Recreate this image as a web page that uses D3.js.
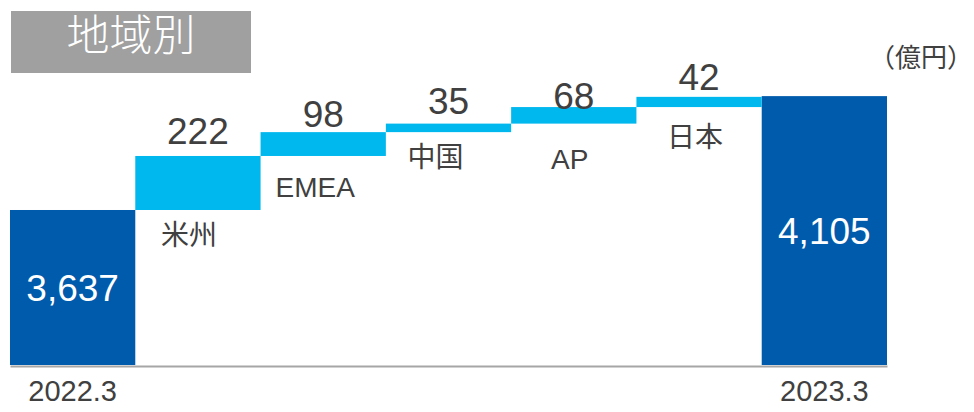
<!DOCTYPE html>
<html>
<head>
<meta charset="utf-8">
<script src="https://cdn.jsdelivr.net/npm/d3@7"></script>
<style>
  body { margin: 0; background: #fff; }
  text { font-family: "Liberation Sans", Arial, "Noto Sans CJK JP", sans-serif; }
</style>
</head>
<body>
<svg id="chart" width="974" height="412"></svg>
<script>
// data
const categories = ["2022.3", "米州", "EMEA", "中国", "AP", "日本", "2023.3"];
const startValue = 3637;
const endValue = 4105;
const deltas = [222, 98, 35, 68, 42];
const periodLabels = ["2022.3", "2023.3"];
const title = "地域別";
const unit = "（億円）";

// small hand nudges for the labels, like the original slide
const catDx = [-9, -8, -13, -4, -4];
const catDy = [13, 19, 12, 23, 18];
const valDy = [12, 5, 10, -2, 7];

const darkBlue = "#005bac", lightBlue = "#00b7ee", textColor = "#404040";

const svg = d3.select("#chart");

const x = d3.scaleBand().domain(categories).range([10, 887]).padding(0);
const y = d3.scaleLinear().domain([3000, 4500]).range([365, 0]);

// build waterfall steps
let running = startValue;
const steps = deltas.map((d, i) => {
  const s = {cat: categories[i + 1], from: running, to: running + d, value: d, i: i};
  running += d;
  return s;
});
const totals = [
  {cat: categories[0], value: startValue},
  {cat: categories[categories.length - 1], value: endValue}
];

// title box
svg.append("rect")
  .attr("x", 11).attr("y", 11).attr("width", 240).attr("height", 62)
  .attr("fill", "#a0a0a0");
svg.append("text")
  .attr("x", 131).attr("y", 51)
  .attr("text-anchor", "middle")
  .attr("fill", "#fff")
  .style("font-family", "'Noto Sans CJK JP'")
  .style("font-weight", 300)
  .style("font-size", "43px")
  .text(title);

// unit
svg.append("text")
  .attr("x", 973).attr("y", 67)
  .attr("text-anchor", "end")
  .attr("fill", textColor)
  .style("font-family", "'Noto Sans CJK JP'")
  .style("font-size", "26px")
  .text(unit);

// total bars
svg.selectAll(".total")
  .data(totals)
  .enter().append("rect")
  .attr("class", "total")
  .attr("x", d => x(d.cat))
  .attr("width", x.bandwidth())
  .attr("y", d => y(d.value))
  .attr("height", d => y(3000) - y(d.value))
  .attr("fill", darkBlue);

svg.selectAll(".totalLabel")
  .data(totals)
  .enter().append("text")
  .attr("x", d => x(d.cat) + x.bandwidth() / 2)
  .attr("y", d => (y(d.value) + y(3000)) / 2)
  .attr("dy", "0.36em")
  .attr("text-anchor", "middle")
  .attr("fill", "#fff")
  .style("font-size", "37px")
  .text(d => d3.format(",")(d.value));

// step bars
svg.selectAll(".step")
  .data(steps)
  .enter().append("rect")
  .attr("class", "step")
  .attr("x", d => x(d.cat))
  .attr("width", x.bandwidth())
  .attr("y", d => y(d.to))
  .attr("height", d => y(d.from) - y(d.to))
  .attr("fill", lightBlue);

// values above steps
svg.selectAll(".stepValue")
  .data(steps)
  .enter().append("text")
  .attr("x", d => x(d.cat) + x.bandwidth() / 2)
  .attr("y", d => y(d.to) - valDy[d.i])
  .attr("text-anchor", "middle")
  .attr("fill", textColor)
  .style("font-size", "37px")
  .text(d => d.value);

// category names under steps
svg.selectAll(".stepName")
  .data(steps)
  .enter().append("text")
  .attr("x", d => x(d.cat) + x.bandwidth() / 2 + catDx[d.i])
  .attr("y", d => y(d.from) + catDy[d.i])
  .attr("dy", "0.8em")
  .attr("text-anchor", "middle")
  .attr("fill", textColor)
  .style("font-size", "28px")
  .text(d => d.cat);

// baseline axis
const xAxis = d3.axisBottom(x)
  .tickValues([categories[0], categories[categories.length - 1]])
  .tickSize(0)
  .tickPadding(14)
  .tickFormat((d, i) => periodLabels[i]);

const axisG = svg.append("g")
  .attr("transform", "translate(0," + 366 + ")")
  .call(xAxis);
axisG.select(".domain")
  .attr("stroke", "#a6a6a6")
  .attr("stroke-width", 2);
axisG.selectAll("text")
  .attr("fill", textColor)
  .style("font-family", "'Liberation Sans', Arial, sans-serif")
  .style("font-size", "29px");
</script>
</body>
</html>
